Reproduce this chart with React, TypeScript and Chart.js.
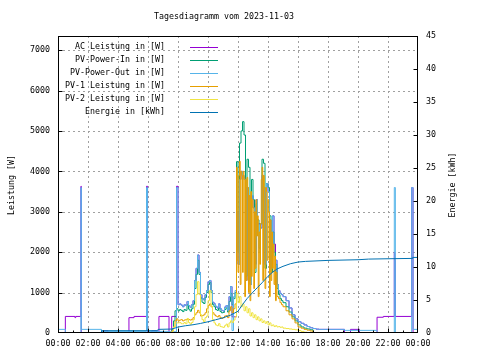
import React, { useEffect, useRef } from "react";
import { Chart, registerables } from "chart.js";
Chart.register(...registerables);

const TITLE = "Tagesdiagramm vom 2023-11-03";
const Y_LEFT_TITLE = "Leistung [W]";
const Y_RIGHT_TITLE = "Energie [kWh]";
const FONT_FAMILY = "DejaVu Sans Mono";
const FONT_SIZE = 8.3;

const seriesLabels = [
  "AC Leistung in [W]",
  "PV-Power-In in [W]",
  "PV-Power-Out in [W]",
  "PV-1 Leistung in [W]",
  "PV-2 Leistung in [W]",
  "Energie in [kWh]",
];
const seriesColors = ["#9400d3", "#009e73", "#56b4e9", "#e69f00", "#f0e442", "#0072b2"];

const xLabelHours = [0, 2, 4, 6, 8, 10, 12, 14, 16, 18, 20, 22, 24];
const xGridHours = [2, 4, 6, 8, 10, 12, 14, 16, 18, 20, 22];
const xMinorHours = [1, 3, 5, 7, 9, 11, 13, 15, 17, 19, 21, 23];
const leftLabelTicks = [0, 1000, 2000, 3000, 4000, 5000, 6000, 7000];
const leftTicks = [1000, 2000, 3000, 4000, 5000, 6000, 7000];
const rightLabelTicks = [0, 5, 10, 15, 20, 25, 30, 35, 40, 45];
const rightTicks = [5, 10, 15, 20, 25, 30, 35, 40];

// shared daytime time grid (hours)
const dayT = [
  7.5, 7.6, 7.7, 7.8, 7.9,
  8.0, 8.1, 8.2, 8.3, 8.4, 8.5, 8.6, 8.7, 8.8, 8.9,
  9.0, 9.1, 9.2, 9.3, 9.4, 9.5, 9.6, 9.7, 9.8, 9.9,
  10.0, 10.1, 10.2, 10.3, 10.4, 10.5, 10.6, 10.7, 10.8, 10.9,
  11.0, 11.1, 11.2, 11.3, 11.4, 11.5, 11.6, 11.7, 11.8, 11.9,
  12.0, 12.1, 12.2, 12.3, 12.4, 12.5, 12.6, 12.7, 12.8, 12.9,
  13.0, 13.1, 13.2, 13.3, 13.4, 13.5, 13.6, 13.7, 13.8, 13.9,
  14.0, 14.1, 14.2, 14.3, 14.4, 14.5, 14.6, 14.7, 14.8, 14.9,
  15.0,
  15.2, 15.4, 15.6, 15.8, 16.0, 16.2, 16.4, 16.6, 16.8, 17.0, 17.2, 17.4, 17.6, 17.8, 18.0,
];

// PV-Power-Out (W)
const outNightStartT = [0, 0.49, 1.53, 1.55, 2.9, 5.9, 5.97];
const outNightStartV = [90, 0, 3600, 90, 40, 3600, 40];
const outDayV = [
  30, 30, 30, 30, 3600,
  700, 720, 690, 650, 700, 680, 780, 680, 630, 700,
  800, 1300, 1600, 1930, 1500, 950, 850, 820, 950, 1050,
  1270, 1300, 1050, 760, 720, 660, 620, 720, 600, 560,
  540, 640, 680, 560, 900, 1150, 60, 900, 1050, 3000,
  1700, 3800, 4000, 3900, 3800, 1300, 3600, 3400, 1200, 3400,
  3100, 1700, 3300, 2700, 2000, 2600, 3900, 3600, 1700, 3700,
  3500, 2800, 1600, 2900, 1900, 1800, 1200, 1050, 980, 950,
  900,
  800, 620, 450, 350, 280, 240, 200, 160, 130, 110, 95, 90, 90, 90, 90,
];
const outNightEndT = [19.1, 21.27, 22.42, 22.49, 23.58, 23.67, 24];
const outNightEndV = [65, 0, 3600, 0, 3600, 90, 90];

// AC Leistung (W)
const acNightStartT = [0, 0.49, 1.13, 1.18, 1.53, 1.55, 3.0, 3.33, 4.73, 5.07, 5.9, 5.97, 6.25, 6.58, 6.73, 7.4, 7.58, 7.9];
const acNightStartV = [0, 410, 380, 410, 3630, 0, 50, 0, 380, 410, 3630, 0, 50, 0, 410, 0, 410, 3630];
const acDayV = [
  null, null, null, null, null,
  700, 720, 690, 650, 700, 680, 780, 680, 630, 700,
  800, 1300, 1600, 1930, 1500, 950, 850, 820, 950, 1050,
  1270, 1300, 1050, 760, 720, 660, 620, 720, 600, 560,
  540, 640, 680, 560, 900, 1150, 400, 400, 400, 3000,
  1700, 3800, 4000, 3900, 3800, 1300, 3600, 3400, 1200, 3400,
  3100, 1700, 3300, 2700, 2700, 2600, 3900, 3600, 1700, 3700,
  3500, 2800, 1600, 2900, 2200, 1800, 1200, 1050, 980, 950,
  900,
  800, 620, 450, 350, 280, 240, 200, 160, 130, 110, 95, 90, 90, 90, 90,
];
const acNightEndT = [19.1, 19.5, 20.1, 21.27, 21.69, 22.42, 22.46, 22.49, 23.58, 23.67, 24];
const acNightEndV = [0, 90, 0, 390, 410, 2000, 1800, 410, 3600, 0, 0];

// PV-Power-In (W), on dayT
const pvInV = [
  0, 100, 300, 550, 600,
  550, 580, 560, 530, 580, 560, 700, 590, 540, 600,
  710, 1100, 1450, 1800, 1450, 870, 760, 730, 880, 1000,
  1200, 1250, 1000, 700, 650, 580, 560, 620, 530, 500,
  510, 580, 620, 520, 780, 980, 700, 850, 1000, 4240,
  2000, 4700, 5000, 5230, 4900, 1400, 4300, 4100, 1300, 3800,
  3300, 1500, 3200, 2800, 2100, 2700, 4300, 4200, 1600, 3700,
  3600, 2900, 1500, 2500, 2000, 1700, 1100, 950, 850, 800,
  750,
  650, 520, 400, 300, 200, 150, 120, 100, 80, 0,
];

// PV-2 Leistung (W), on dayT
const pv2V = [
  0, 50, 150, 250, 250,
  250, 260, 230, 230, 260, 230, 360, 260, 220, 260,
  330, 650, 950, 1270, 950, 450, 330, 280, 380, 420,
  800, 1050, 650, 330, 250, 200, 180, 230, 160, 150,
  140, 180, 220, 150, 250, 300, 260, 320, 400, 980,
  750, 900, 650, 720, 550, 650, 500, 600, 420, 500,
  380, 450, 330, 400, 300, 350, 260, 300, 240, 280,
  200, 250, 180, 200, 160, 180, 150, 160, 140, 150,
  120,
  110, 100, 90, 80, 60, 40, 20, 0,
];

// PV-1 Leistung (W), own time grid
const pv1T = [
  7.5, 7.6, 7.7, 7.8, 7.9,
  8.0, 8.1, 8.2, 8.3, 8.4, 8.5, 8.6, 8.7, 8.8, 8.9,
  9.0, 9.1, 9.2, 9.3, 9.4, 9.5, 9.6, 9.7, 9.8, 9.9,
  10.0, 10.1, 10.2, 10.3, 10.4, 10.5, 10.6, 10.7, 10.8, 10.9,
  11.0, 11.1, 11.2, 11.3, 11.4, 11.5, 11.6, 11.7, 11.8,
  11.9, 11.95, 12.0, 12.05, 12.1, 12.15, 12.2, 12.25, 12.3, 12.35,
  12.4, 12.45, 12.5, 12.55, 12.6, 12.65, 12.7, 12.75, 12.8, 12.85,
  12.9, 12.95, 13.0, 13.05, 13.1, 13.15, 13.2, 13.25, 13.3, 13.35,
  13.4, 13.45, 13.5, 13.55, 13.6, 13.65, 13.7, 13.75, 13.8, 13.85,
  13.9, 13.95, 14.0, 14.05, 14.1, 14.15, 14.2, 14.25, 14.3, 14.35,
  14.4, 14.45, 14.5, 14.55, 14.6,
  14.7, 14.8, 14.9, 15.0, 15.2, 15.4, 15.6, 15.8, 16.0, 16.2, 16.4, 16.6, 16.8, 17.0,
];
const pv1V = [
  0, 50, 150, 300, 350,
  300, 320, 330, 300, 320, 330, 340, 330, 320, 340,
  380, 450, 500, 560, 500, 420, 430, 450, 500, 600,
  680, 720, 650, 500, 450, 420, 400, 430, 380, 360,
  380, 420, 430, 380, 550, 650, 500, 600, 720,
  4100, 1800, 1500, 3900, 4250, 1200, 4000, 3900, 1500, 4000,
  3850, 900, 3800, 1300, 3850, 3600, 1000, 3400, 800, 3500,
  1400, 3300, 3100, 1100, 3000, 1600, 3300, 2400, 2900, 900,
  2500, 1700, 2700, 3800, 4100, 1300, 3900, 3600, 1100, 3600,
  3500, 1800, 3300, 3000, 900, 2800, 1300, 2500, 1600, 2200,
  1200, 1900, 800, 1500, 900,
  850, 750, 700, 650, 550, 450, 350, 250, 150, 120, 90, 70, 50, 0,
];

// Energie (kWh)
const energyT = [
  1.53, 2.88, 2.9, 6.65, 6.67, 7.6, 8.0, 8.5, 9.0, 9.5, 10.0, 10.5, 11.0, 11.5,
  12.0, 12.3, 12.6, 13.0, 13.3, 13.6, 14.0, 14.3, 14.6, 15.0, 15.5, 16.0, 16.5,
  17.0, 18.0, 19.0, 20.0, 20.7, 22.0, 23.6, 23.65, 24.0,
];
const energyV = [
  0.05, 0.05, 0.35, 0.35, 0.55, 0.6, 0.9, 1.1, 1.25, 1.45, 1.7, 2.0, 2.3, 2.7,
  3.3, 4.3, 5.2, 6.2, 6.9, 7.6, 8.6, 9.2, 9.7, 10.1, 10.5, 10.75, 10.85,
  10.9, 11.0, 11.05, 11.1, 11.2, 11.25, 11.3, 11.45, 11.45,
];

type Pt = { x: number; y: number };
function pts(t: number[], v: (number | null)[]): Pt[] {
  const out: Pt[] = [];
  for (let i = 0; i < v.length; i++) {
    const val = v[i];
    if (val !== null && val !== undefined) out.push({ x: t[i], y: val });
  }
  return out;
}

const font = `${FONT_SIZE}px "${FONT_FAMILY}"`;

const gnuplotPlugin = {
  id: "gnuplotDecor",
  beforeDatasetsDraw(chart: any) {
    const { ctx, chartArea: a, scales } = chart;
    ctx.save();
    ctx.strokeStyle = "#a0a0a0";
    ctx.lineWidth = 1;
    ctx.setLineDash([2, 3]);
    for (const h of xGridHours) {
      const x = Math.round(scales.x.getPixelForValue(h)) + 0.5;
      ctx.beginPath();
      ctx.moveTo(x, a.top);
      ctx.lineTo(x, a.bottom);
      ctx.stroke();
    }
    for (const v of leftTicks) {
      const y = Math.round(scales.y.getPixelForValue(v)) + 0.5;
      ctx.beginPath();
      ctx.moveTo(a.left, y);
      ctx.lineTo(a.right, y);
      ctx.stroke();
    }
    ctx.restore();
  },
  afterDatasetsDraw(chart: any) {
    const { ctx, chartArea: a, scales } = chart;
    ctx.save();
    ctx.strokeStyle = "#000";
    ctx.lineWidth = 1;
    ctx.setLineDash([]);
    const L = Math.round(a.left) + 0.5;
    const R = Math.round(a.right) - 0.5;
    const T = Math.round(a.top) + 0.5;
    const B = Math.round(a.bottom) - 0.5;
    ctx.strokeRect(L, T, R - L, B - T);
    ctx.beginPath();
    for (const h of xGridHours) {
      const x = Math.round(scales.x.getPixelForValue(h)) + 0.5;
      ctx.moveTo(x, B);
      ctx.lineTo(x, B - 4);
    }
    for (const h of xMinorHours) {
      const x = Math.round(scales.x.getPixelForValue(h)) + 0.5;
      ctx.moveTo(x, B);
      ctx.lineTo(x, B - 2);
    }
    for (const v of leftTicks) {
      const y = Math.round(scales.y.getPixelForValue(v)) + 0.5;
      ctx.moveTo(L, y);
      ctx.lineTo(L + 4, y);
    }
    for (const v of rightTicks) {
      const y = Math.round(scales.y2.getPixelForValue(v)) + 0.5;
      ctx.moveTo(R, y);
      ctx.lineTo(R - 4, y);
    }
    ctx.stroke();

    // texts
    ctx.fillStyle = "#000";
    ctx.font = font;
    ctx.textBaseline = "middle";
    ctx.textAlign = "center";
    ctx.fillText(TITLE, 224, 17);

    ctx.save();
    ctx.translate(12, 185);
    ctx.rotate(-Math.PI / 2);
    ctx.fillText(Y_LEFT_TITLE, 0, 0);
    ctx.restore();
    ctx.save();
    ctx.translate(453, 185);
    ctx.rotate(-Math.PI / 2);
    ctx.fillText(Y_RIGHT_TITLE, 0, 0);
    ctx.restore();

    // legend
    ctx.textAlign = "right";
    for (let i = 0; i < seriesLabels.length; i++) {
      const y = 47 + i * 13;
      ctx.fillStyle = "#000";
      ctx.fillText(seriesLabels[i], 165, y);
      ctx.fillStyle = seriesColors[i];
      ctx.fillRect(190, y, 28, 1);
    }
    ctx.restore();
  },
};

export default function App() {
  const ref = useRef<HTMLCanvasElement | null>(null);
  useEffect(() => {
    document.body.style.margin = "0";
    const canvas = ref.current!;
    const mk = (i: number, data: Pt[], order: number, axis = "y", stepped: any = true) => ({
      label: seriesLabels[i],
      data,
      borderColor: seriesColors[i],
      backgroundColor: seriesColors[i],
      borderWidth: 1,
      pointRadius: 0,
      fill: false,
      stepped,
      tension: 0,
      order,
      yAxisID: axis,
    });
    const acData = [
      ...pts(acNightStartT, acNightStartV),
      ...pts(dayT, acDayV),
      ...pts(acNightEndT, acNightEndV),
    ];
    const outData = [
      ...pts(outNightStartT, outNightStartV),
      ...pts(dayT, outDayV),
      ...pts(outNightEndT, outNightEndV),
    ];
    const tickFont = { family: FONT_FAMILY, size: FONT_SIZE };
    const chart = new Chart(canvas, {
      type: "line",
      data: {
        datasets: [
          mk(0, acData, 6),
          mk(1, pts(dayT, pvInV), 5),
          mk(2, outData, 4),
          mk(3, pts(pv1T, pv1V), 3),
          mk(4, pts(dayT, pv2V), 2),
          mk(5, pts(energyT, energyV), 1, "y2", false),
        ] as any,
      },
      options: {
        responsive: false,
        animation: false,
        events: [],
        layout: { padding: { top: 36, left: 0, right: 0, bottom: 0 } },
        plugins: { legend: { display: false }, title: { display: false }, tooltip: { enabled: false } },
        scales: {
          x: {
            type: "linear",
            min: 0,
            max: 24,
            grid: { display: false, drawTicks: false },
            border: { display: false },
            ticks: {
              autoSkip: false,
              maxRotation: 0,
              padding: 6,
              color: "#000",
              font: tickFont,
              callback: (v: any) => `${String(Number(v) % 24).padStart(2, "0")}:00`,
            },
            afterBuildTicks: (s: any) => { s.ticks = xLabelHours.map((v) => ({ value: v })); },
            afterFit: (s: any) => { s.height = 27; },
          },
          y: {
            type: "linear",
            position: "left",
            min: 0,
            max: 7350,
            grid: { display: false, drawTicks: false },
            border: { display: false },
            ticks: { autoSkip: false, padding: 8, color: "#000", font: tickFont, callback: (v: any) => String(v) },
            afterBuildTicks: (s: any) => { s.ticks = leftLabelTicks.map((v) => ({ value: v })); },
            afterFit: (s: any) => { s.width = 58; },
          },
          y2: {
            type: "linear",
            position: "right",
            min: 0,
            max: 45,
            grid: { display: false, drawTicks: false },
            border: { display: false },
            ticks: { autoSkip: false, padding: 8, color: "#000", font: tickFont, callback: (v: any) => String(v) },
            afterBuildTicks: (s: any) => { s.ticks = rightLabelTicks.map((v) => ({ value: v })); },
            afterFit: (s: any) => { s.width = 62; },
          },
        },
      } as any,
      plugins: [gnuplotPlugin],
    });
    return () => chart.destroy();
  }, []);
  return (
    <div style={{ width: 480, height: 360, background: "#fff" }}>
      <canvas ref={ref} width={480} height={360} style={{ display: "block" }} />
    </div>
  );
}
